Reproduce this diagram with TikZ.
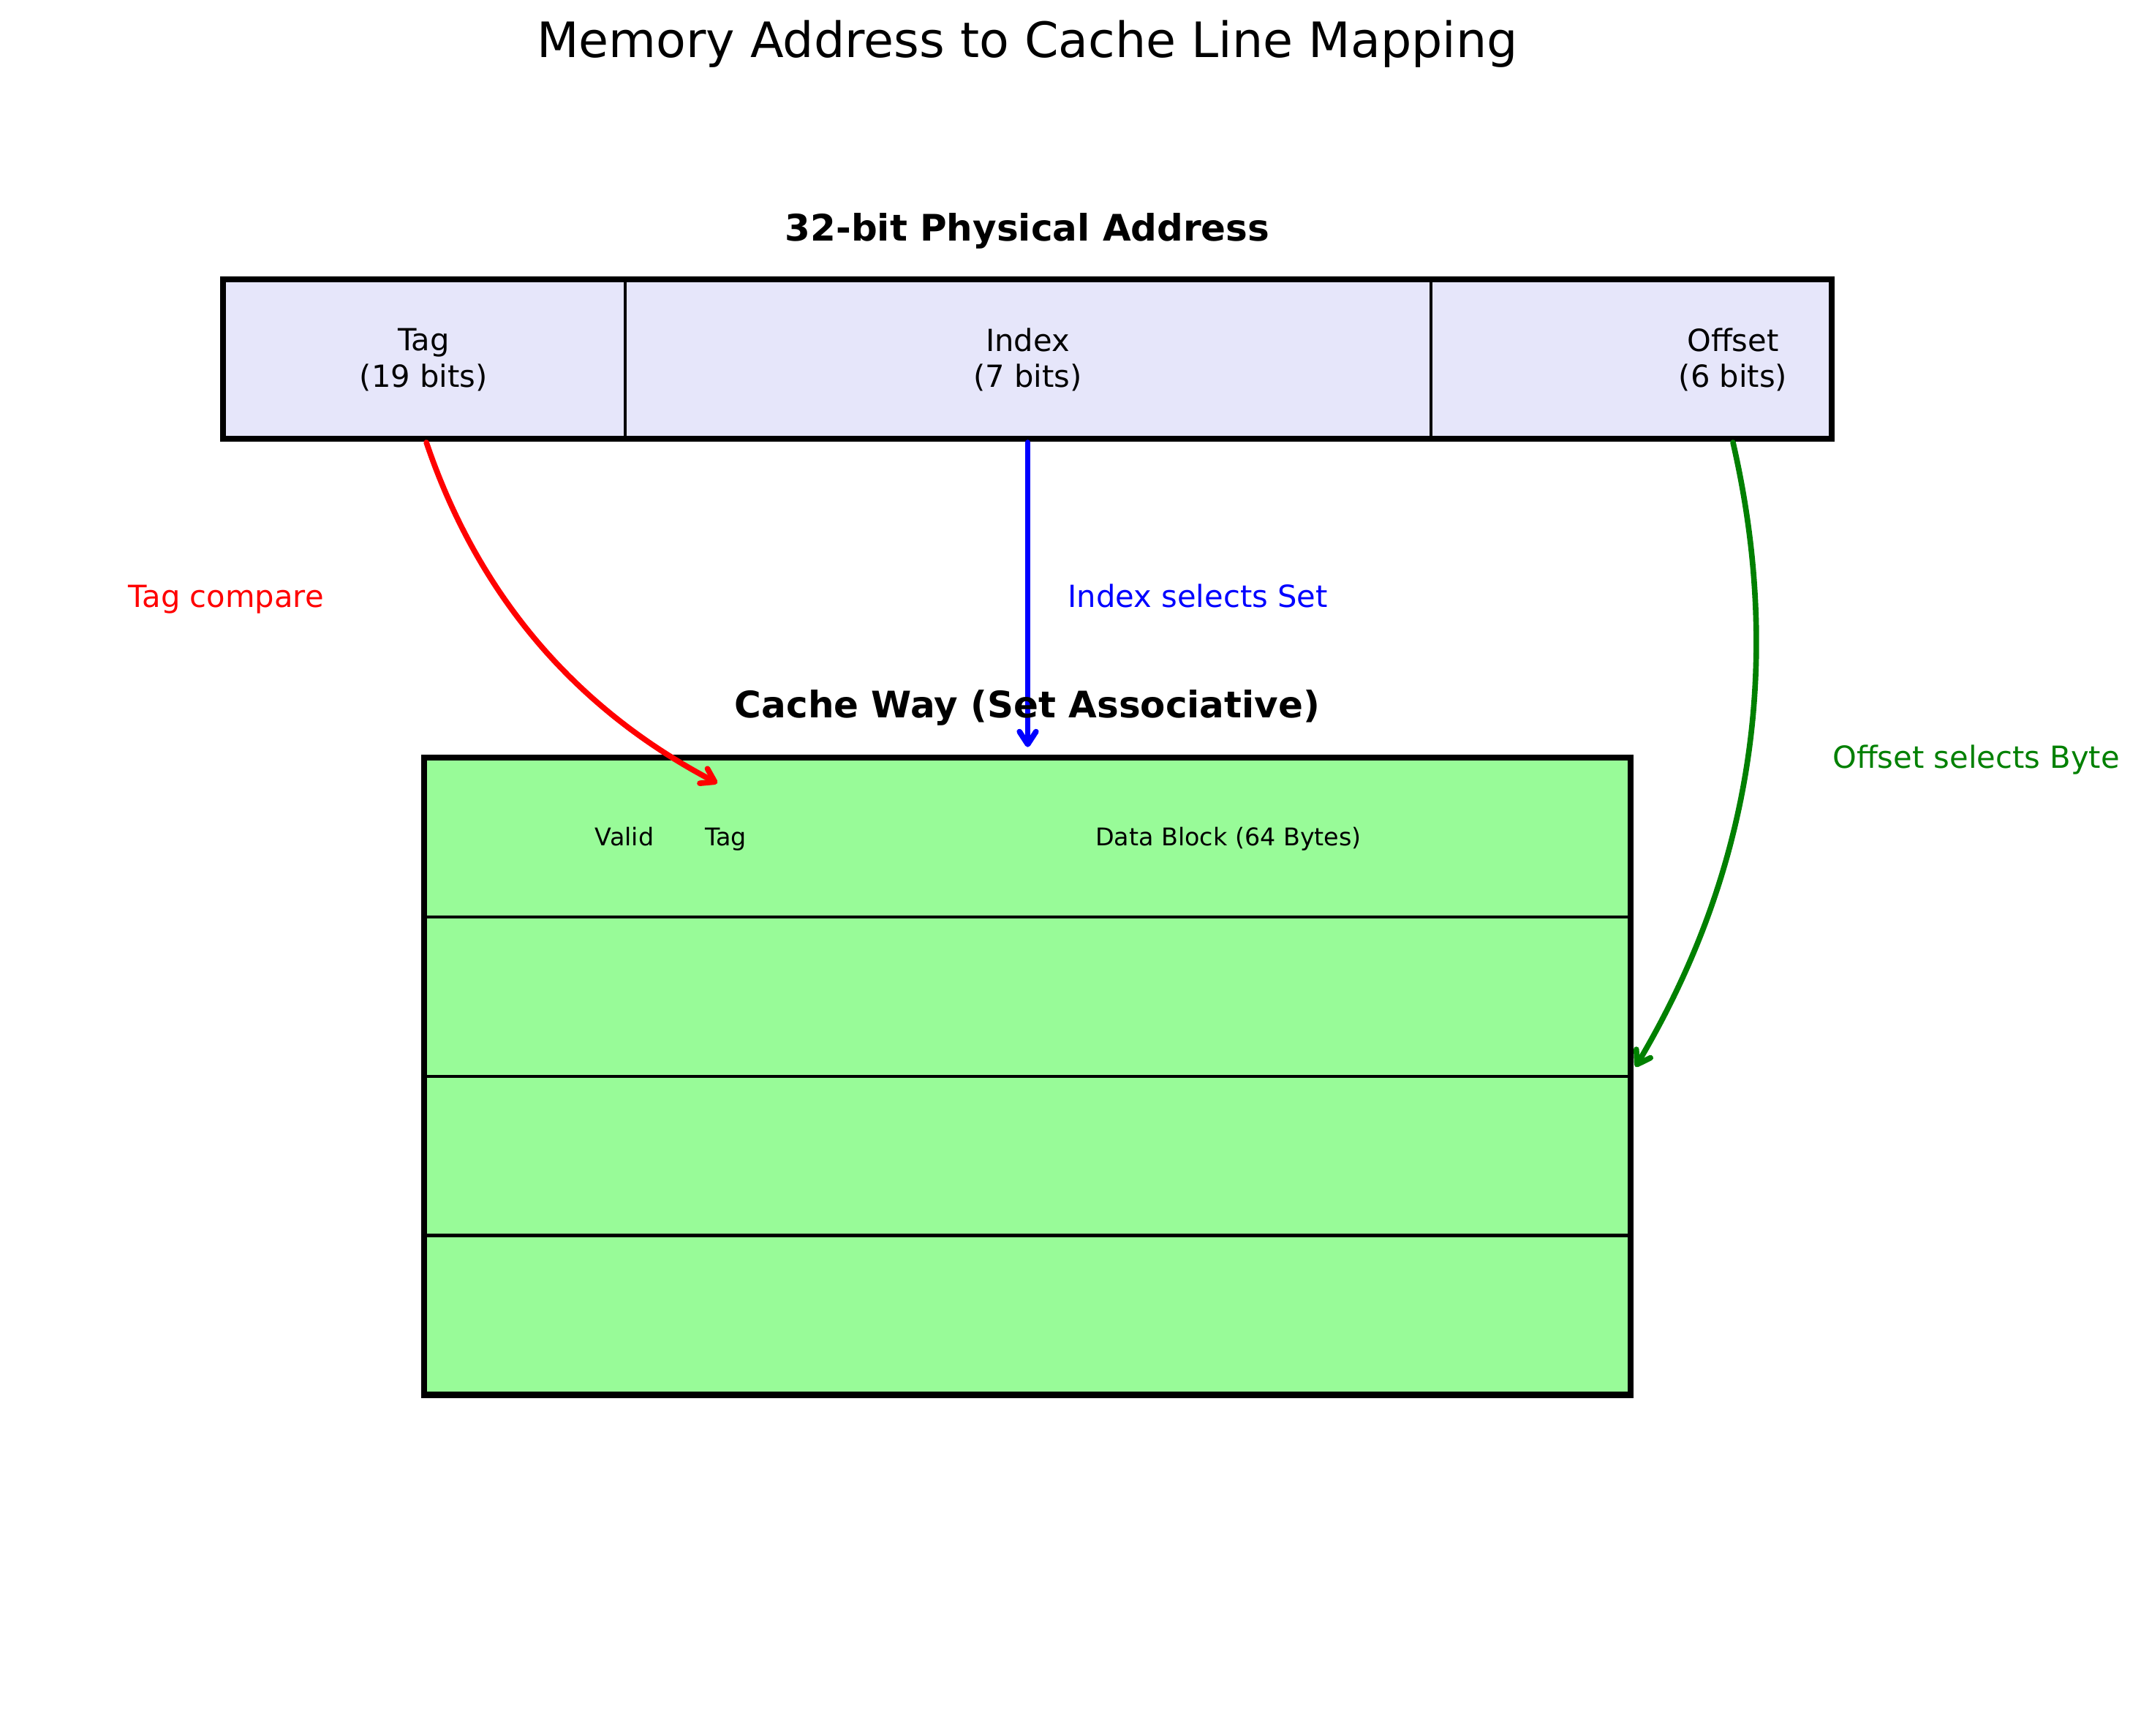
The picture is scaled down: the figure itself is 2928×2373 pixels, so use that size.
\documentclass[tikz,border=0pt]{standalone}
\usepackage{fontspec}
\setmainfont{DejaVu Sans}
\usetikzlibrary{arrows.meta}
\definecolor{lav}{HTML}{E6E6FA}
\definecolor{pgreen}{HTML}{98FB98}
\definecolor{dgreen}{HTML}{008000}
\tikzset{
  fieldcell/.style={draw=black, line width=1.25pt, fill=lav},
  waycell/.style={draw=black, line width=1.3pt, fill=pgreen},
  outerbox/.style={draw=black, line width=2.45pt},
  lbl/.style={inner sep=0pt, align=center, font=\fontsize{12}{14.2}\selectfont},
  onelbl/.style={inner sep=0pt, text height=0.76em, text depth=0.21em, font=\fontsize{12}{14.2}\selectfont},
  smalllbl/.style={inner sep=0pt, text height=0.76em, text depth=0.21em, font=\fontsize{9.6}{11.5}\selectfont},
  headlbl/.style={inner sep=0pt, font=\fontsize{14.4}{17.3}\selectfont\bfseries},
  titlelbl/.style={inner sep=0pt, font=\fontsize{19.2}{23}\selectfont},
  conn/.style={line width=2.2pt, line cap=round, -{Straight Barb[round, length=5pt, width=6.5pt]}},
}
\begin{document}
\begin{tikzpicture}[x=0.288pt, y=-0.288pt]
\useasboundingbox (0,0) rectangle (2928,2373);

% title
\node[titlelbl] (title) at (1405,60) {Memory Address to Cache Line Mapping};

% address fields
\draw[fieldcell] (305,382) rectangle (855,600);
\draw[fieldcell] (855,382) rectangle (1956.8,600);
\draw[fieldcell] (1956.8,382) rectangle (2505,600);
\draw[outerbox] (305,382) rectangle (2505,600);
\node[headlbl] (addrhead) at (1405,316) {32-bit Physical Address};
\node[lbl] (tagf) at (579.4,492) {Tag\\(19 bits)};
\node[lbl] (idxf) at (1405.5,492) {Index\\(7 bits)};
\node[lbl] (offf) at (2370,492) {Offset\\(6 bits)};

% cache way
\draw[waycell] (580,1036) rectangle (2230,1253.9);
\draw[waycell] (580,1253.9) rectangle (2230,1471.8);
\draw[waycell] (580,1471.8) rectangle (2230,1689.6);
\draw[waycell] (580,1689.6) rectangle (2230,1907.5);
\draw[outerbox] (580,1036) rectangle (2230,1907.5);
\node[smalllbl] (validl) at (854,1147) {Valid};
\node[smalllbl] (tagl) at (992.4,1147) {Tag};
\node[smalllbl] (datal) at (1680,1147) {Data Block (64 Bytes)};

% connectors
\coordinate (tagsrc) at (583.1,605);
\coordinate (tagdst) at (981,1071);
\coordinate (idxsrc) at (1405.5,605);
\coordinate (idxdst) at (1405.5,1021.7);
\coordinate (offsrc) at (2370,605);
\coordinate (offdst) at (2236.7,1459);
\draw[conn, red] (tagsrc) .. controls (653.6,813.4) and (786.2,968.7) .. (tagdst);
\draw[conn, blue] (idxsrc) -- (idxdst);
\draw[conn, dgreen] (offsrc) .. controls (2439.5,907.5) and (2395.0,1192.1) .. (offdst);

\node[headlbl] (wayhead) at (1405,968) {Cache Way (Set Associative)};
\node[onelbl, text=red] (tagcmp) at (309.3,821) {Tag compare};
\node[onelbl, text=blue] (idxsel) at (1638.2,821) {Index selects Set};
\node[onelbl, text=dgreen] (offsel) at (2702.6,1040.5) {Offset selects Byte};
\end{tikzpicture}
\end{document}
